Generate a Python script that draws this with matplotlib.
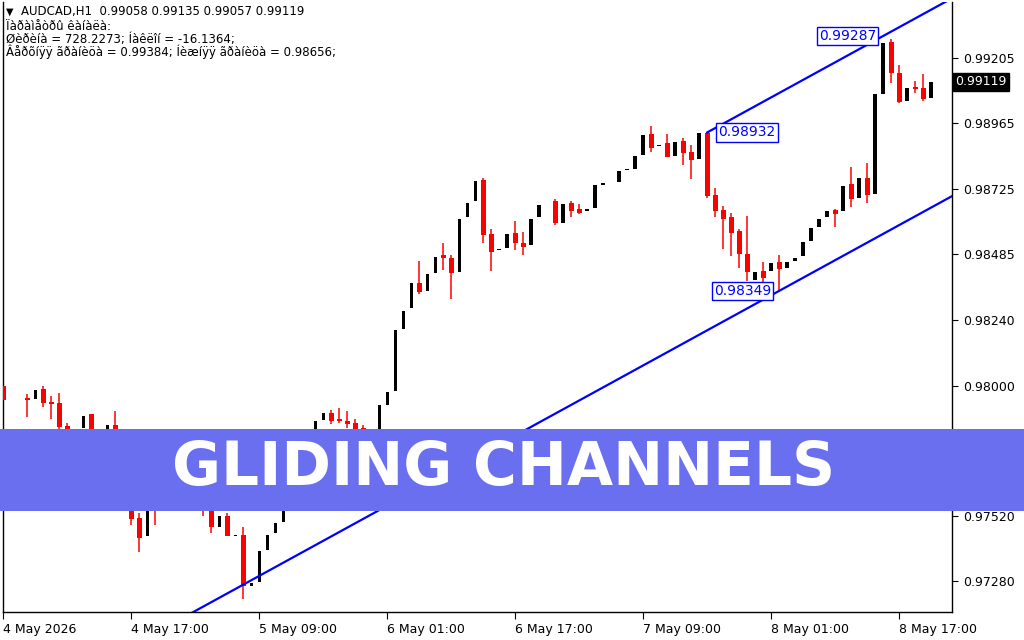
import matplotlib
matplotlib.use('Agg')

import matplotlib.pyplot as plt
from matplotlib.patches import Rectangle

# AUDCAD H1 bars, index 0 = 4 May 01:00 (None = no bar drawn)
opens = [0.98000, None, None, 0.97956, 0.97952, 0.97989, 0.97941, 0.97938, 0.97853, 0.97838,
         0.97846, 0.97894, 0.97798, 0.97812, 0.97857, 0.97798, 0.97743, 0.97514, 0.97448, 0.97595,
         0.97559, 0.97651, 0.97614, 0.97687, 0.97651, 0.97595, 0.97577, 0.97478, 0.97522, 0.97446,
         0.97452, 0.97264, 0.97278, 0.97397, 0.97456, 0.97500, 0.97577, 0.97651, 0.97621, 0.97798,
         0.97875, 0.97901, 0.97879, 0.97871, 0.97864, 0.97846, 0.97812, 0.97790, 0.97927, 0.97982,
         0.98210, 0.98284, 0.98379, 0.98350, 0.98416, 0.98482, 0.98471, 0.98419, 0.98619, 0.98678,
         0.98758, 0.98559, 0.98499, 0.98507, 0.98563, 0.98526, 0.98519, 0.98619, None, 0.98678,
         0.98600, 0.98674, 0.98652, 0.98641, 0.98655, 0.98740, None, 0.98751, 0.98795, 0.98799,
         0.98850, 0.98928, 0.98883, 0.98894, 0.98847, 0.98902, 0.98861, 0.98836, 0.98929, 0.98703,
         0.98648, 0.98622, 0.98570, 0.98486, 0.98390, 0.98423, 0.98423, 0.98456, 0.98434, 0.98460,
         0.98478, 0.98534, 0.98585, 0.98619, 0.98648, 0.98641, 0.98744, 0.98692, 0.98766, 0.98707,
         0.99075, 0.99266, 0.99152, 0.99049, 0.99100, 0.99097, 0.99058]

highs = [0.98000, None, None, 0.97971, 0.97985, 0.98000, 0.97963, 0.97974, 0.97864, 0.97842,
         0.97890, 0.97894, 0.97827, 0.97857, 0.97905, 0.97812, 0.97761, 0.97533, 0.97595, 0.97614,
         0.97651, 0.97660, 0.97687, 0.97695, 0.97660, 0.97614, 0.97595, 0.97522, 0.97533, 0.97450,
         0.97478, 0.97275, 0.97393, 0.97452, 0.97496, 0.97577, 0.97651, 0.97687, 0.97798, 0.97871,
         0.97898, 0.97912, 0.97919, 0.97908, 0.97879, 0.97857, 0.97827, 0.97927, 0.97978, 0.98206,
         0.98276, 0.98376, 0.98460, 0.98412, 0.98475, 0.98526, 0.98482, 0.98615, 0.98674, 0.98755,
         0.98766, 0.98578, 0.98503, 0.98559, 0.98607, 0.98567, 0.98615, 0.98666, None, 0.98688,
         0.98670, 0.98681, 0.98670, 0.98652, 0.98740, 0.98747, None, 0.98791, 0.98799, 0.98847,
         0.98924, 0.98957, 0.98887, 0.98928, 0.98898, 0.98913, 0.98887, 0.98929, 0.98932, 0.98729,
         0.98663, 0.98637, 0.98578, 0.98626, 0.98420, 0.98456, 0.98453, 0.98482, 0.98456, 0.98471,
         0.98530, 0.98581, 0.98615, 0.98644, 0.98652, 0.98736, 0.98804, 0.98766, 0.98819, 0.99075,
         0.99262, 0.99277, 0.99181, 0.99097, 0.99123, 0.99148, 0.99135]

lows = [0.97941, None, None, 0.97886, 0.97952, 0.97923, 0.97879, 0.97835, 0.97820, 0.97838,
        0.97846, 0.97805, 0.97798, 0.97812, 0.97783, 0.97724, 0.97489, 0.97386, 0.97448, 0.97489,
        0.97559, 0.97605, 0.97614, 0.97640, 0.97588, 0.97522, 0.97456, 0.97478, 0.97445, 0.97446,
        0.97216, 0.97264, 0.97278, 0.97397, 0.97456, 0.97500, 0.97577, 0.97595, 0.97621, 0.97798,
        0.97875, 0.97860, 0.97864, 0.97846, 0.97835, 0.97798, 0.97768, 0.97790, 0.97927, 0.97982,
        0.98210, 0.98284, 0.98339, 0.98350, 0.98416, 0.98427, 0.98320, 0.98419, 0.98619, 0.98678,
        0.98526, 0.98423, 0.98499, 0.98507, 0.98500, 0.98482, 0.98519, 0.98619, None, 0.98593,
        0.98600, 0.98619, 0.98633, 0.98641, 0.98655, 0.98740, None, 0.98751, 0.98795, 0.98799,
        0.98850, 0.98861, 0.98883, 0.98840, 0.98847, 0.98813, 0.98762, 0.98836, 0.98692, 0.98622,
        0.98504, 0.98478, 0.98434, 0.98386, 0.98390, 0.98368, 0.98423, 0.98349, 0.98434, 0.98460,
        0.98478, 0.98534, 0.98585, 0.98619, 0.98585, 0.98641, 0.98659, 0.98692, 0.98674, 0.98707,
        0.99075, 0.99115, 0.99042, 0.99049, 0.99078, 0.99049, 0.99057]

closes = [0.97949, None, None, 0.97949, 0.97985, 0.97938, 0.97934, 0.97849, 0.97827, 0.97842,
          0.97890, 0.97820, 0.97827, 0.97857, 0.97798, 0.97743, 0.97511, 0.97441, 0.97595, 0.97559,
          0.97651, 0.97614, 0.97687, 0.97651, 0.97595, 0.97559, 0.97478, 0.97522, 0.97445, 0.97450,
          0.97261, 0.97275, 0.97393, 0.97452, 0.97496, 0.97577, 0.97651, 0.97621, 0.97798, 0.97871,
          0.97898, 0.97871, 0.97871, 0.97860, 0.97842, 0.97812, 0.97790, 0.97927, 0.97978, 0.98206,
          0.98276, 0.98376, 0.98346, 0.98412, 0.98475, 0.98468, 0.98416, 0.98615, 0.98674, 0.98755,
          0.98556, 0.98493, 0.98503, 0.98559, 0.98526, 0.98512, 0.98615, 0.98666, None, 0.98600,
          0.98670, 0.98644, 0.98637, 0.98652, 0.98740, 0.98747, None, 0.98791, 0.98799, 0.98847,
          0.98924, 0.98876, 0.98887, 0.98840, 0.98898, 0.98858, 0.98832, 0.98929, 0.98699, 0.98644,
          0.98615, 0.98563, 0.98486, 0.98420, 0.98420, 0.98398, 0.98453, 0.98430, 0.98456, 0.98471,
          0.98530, 0.98581, 0.98615, 0.98644, 0.98633, 0.98736, 0.98688, 0.98766, 0.98703, 0.99075,
          0.99262, 0.99152, 0.99045, 0.99097, 0.99093, 0.99056, 0.99119]

time_ticks = [0, 16, 32, 48, 64, 80, 96, 112]
time_labels = ["4 May 2026", "4 May 17:00", "5 May 09:00", "6 May 01:00",
               "6 May 17:00", "7 May 09:00", "8 May 01:00", "8 May 17:00"]
price_ticks = [0.97280, 0.97520, 0.97760, 0.98000, 0.98240, 0.98485, 0.98725, 0.98965, 0.99205]

# channel: upper border through two highs, lower border parallel through a low
upper_pts = [(88, 0.98932), (110, 0.99287)]
lower_pt = (97, 0.98349)
last_price = 0.99119

header = ["AUDCAD,H1  0.99058 0.99135 0.99057 0.99119",
          "Ïàðàìåòðû êàíàëà:",
          "Øèðèíà = 728.2273; Íàêëîí = -16.1364;",
          "Âåðõíÿÿ ãðàíèöà = 0.99384; Íèæíÿÿ ãðàíèöà = 0.98656;"]
banner_text = "GLIDING CHANNELS"


def main():
    fig = plt.figure(figsize=(10.24, 6.4), dpi=100)
    ax = fig.add_axes([3 / 1024, 28 / 640, 949 / 1024, 610 / 640])

    for i in range(len(opens)):
        o, h, l, c = opens[i], highs[i], lows[i], closes[i]
        if o is None:
            continue
        if c >= o:
            ax.bar(i, max(c - o, 0.00004), bottom=o, width=0.45,
                   color='black', linewidth=0, zorder=3)
        else:
            ax.vlines(i, l, h, color='red', linewidth=1.1, zorder=2)
            ax.bar(i, max(o - c, 0.00004), bottom=c, width=0.6,
                   color='red', linewidth=0, zorder=3)

    # channel lines
    (x1, y1), (x2, y2) = upper_pts
    slope = (y2 - y1) / (x2 - x1)
    xs = [x1, 130]
    ax.plot(xs, [y1 + slope * (x - x1) for x in xs], color='#0000ff', lw=1.6, zorder=4)
    lx, ly = lower_pt
    xs = [-5, 130]
    ax.plot(xs, [ly + slope * (x - lx) for x in xs], color='#0000ff', lw=1.6, zorder=4)

    box = dict(boxstyle='square,pad=0.15', fc='white', ec='#0000ff', lw=1)
    ax.annotate("%.5f" % y1, xy=(x1, y1), xytext=(8, 0), textcoords='offset points',
                ha='left', va='center', color='#0000ff', fontsize=10, bbox=box, zorder=5)
    ax.annotate("%.5f" % y2, xy=(x2, y2), xytext=(-5, 0), textcoords='offset points',
                ha='right', va='center', color='#0000ff', fontsize=10, bbox=box, zorder=5)
    ax.annotate("%.5f" % ly, xy=(lx, ly), xytext=(-6, 0), textcoords='offset points',
                ha='right', va='center', color='#0000ff', fontsize=10, bbox=box, zorder=5)

    ax.set_xlim(-0.05, 118.6)
    ax.set_ylim(0.97167, 0.99412)

    ax.spines['top'].set_visible(False)
    for s in ['left', 'right', 'bottom']:
        ax.spines[s].set_linewidth(1.0)

    ax.set_xticks(time_ticks)
    ax.set_xticklabels(time_labels, ha='left', fontsize=9)
    ax.tick_params(axis='x', direction='out', length=5, pad=3)

    ax.yaxis.tick_right()
    ax.set_yticks(price_ticks)
    ax.set_yticklabels(["%.5f" % p for p in price_ticks], fontsize=9)
    ax.tick_params(axis='y', direction='out', length=4, pad=4)

    ax.text(1.0035, last_price, "%.5f" % last_price, transform=ax.get_yaxis_transform(),
            ha='left', va='center', color='white', fontsize=9,
            bbox=dict(boxstyle='square,pad=0.2', fc='black', ec='black'), zorder=6)

    # header text
    fig.text(6 / 1024, 1 - 12 / 640, "▼", fontsize=7, va='center', ha='left')
    ys = [12, 26, 39, 52]
    for line, y in zip(header, ys):
        fig.text(21 / 1024 if line.startswith("AUDCAD") else 6 / 1024, 1 - y / 640, line,
                 fontsize=8.5, va='center', ha='left', color='black')

    # title banner
    fig.patches.append(Rectangle((0, 129 / 640), 1, 82 / 640, transform=fig.transFigure,
                                 facecolor='#6a6ff0', edgecolor='none', zorder=10))
    fig.text(0.492, 1 - 469 / 640, banner_text, color='white', fontsize=43,
             fontweight='bold', ha='center', va='center', zorder=11, family='DejaVu Sans')

    plt.savefig("out.png", dpi=100)
    plt.close()


if __name__ == "__main__":
    main()
